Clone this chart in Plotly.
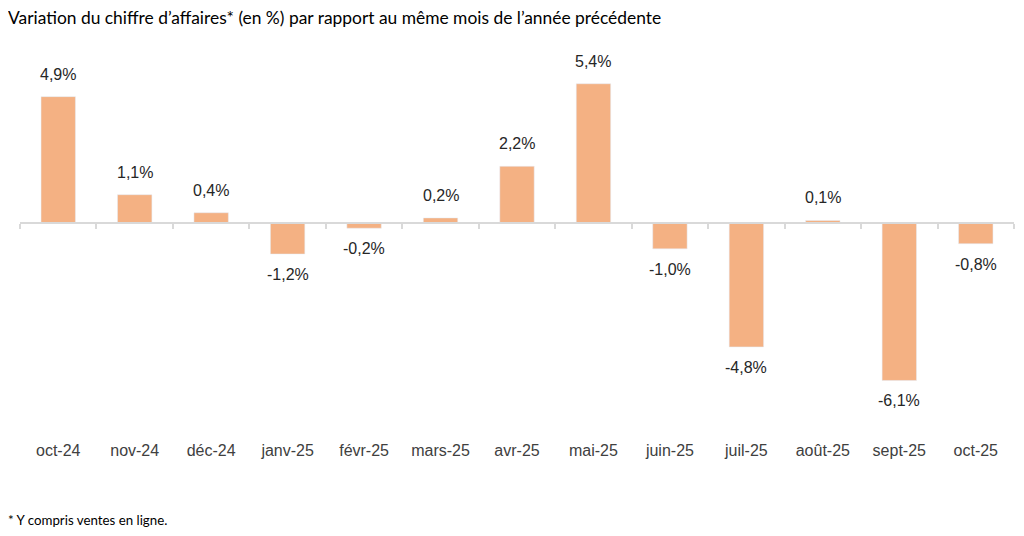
import plotly.graph_objects as go

months = ["oct-24", "nov-24", "déc-24", "janv-25", "févr-25", "mars-25", "avr-25",
          "mai-25", "juin-25", "juil-25", "août-25", "sept-25", "oct-25"]
variation = [4.9, 1.1, 0.4, -1.2, -0.2, 0.2, 2.2, 5.4, -1.0, -4.8, 0.1, -6.1, -0.8]
labels = [f"{v:.1f}".replace(".", ",") + "%" for v in variation]

title_text = "Variation du chiffre d’affaires* (en %) par rapport au même mois de l’année précédente"
footnote = "* Y compris ventes en ligne."

ymin, ymax = -8.33, 6.32
zero_pos = (0 - ymin) / (ymax - ymin)
xrange = [-0.5, len(months) - 0.5]

fig = go.Figure()
fig.add_trace(go.Bar(x=months, y=variation, marker_color="#F4B183", width=0.45,
                     hoverinfo="skip"))

for m, v, t in zip(months, variation, labels):
    fig.add_annotation(x=m, y=v, text=t, showarrow=False,
                       yanchor="bottom" if v >= 0 else "top",
                       yshift=12 if v >= 0 else -10,
                       font=dict(family="Liberation Sans, Arial", size=16, color="#262626"))

fig.add_annotation(xref="paper", yref="paper", x=-14/994, y=1.0, yshift=30,
                   xanchor="left", yanchor="bottom", showarrow=False,
                   text=title_text,
                   font=dict(family="Lato", size=17.4, color="#000000"))
fig.add_annotation(xref="paper", yref="paper", x=-14/994, y=0, yshift=-92,
                   xanchor="left", yanchor="bottom", showarrow=False,
                   text=footnote,
                   font=dict(family="Lato", size=13.3, color="#000000"))

fig.add_trace(go.Scatter(x=months, y=[0]*len(months), xaxis="x2", mode="markers",
                         marker=dict(opacity=0), hoverinfo="skip", showlegend=False))

fig.update_layout(
    width=1024, height=536,
    margin=dict(l=12, r=18, t=52, b=106, autoexpand=False),
    plot_bgcolor="white", paper_bgcolor="white",
    showlegend=False,
    xaxis=dict(type="category", range=xrange, showline=False, ticks="", showgrid=False,
               tickfont=dict(family="Liberation Sans, Arial", size=16, color="#404040"),
               ticklabelstandoff=1),
    xaxis2=dict(type="category", overlaying="x", anchor="free", position=zero_pos,
                side="bottom", showline=True, linecolor="#d9d9d9", linewidth=1.5,
                ticks="outside", tickson="boundaries", ticklen=5, tickcolor="#d9d9d9",
                tickwidth=1.5, showticklabels=False, showgrid=False,
                range=xrange, matches="x"),
    yaxis=dict(range=[ymin, ymax], visible=False, showgrid=False, zeroline=False),
)

fig.write_html("out.html")
